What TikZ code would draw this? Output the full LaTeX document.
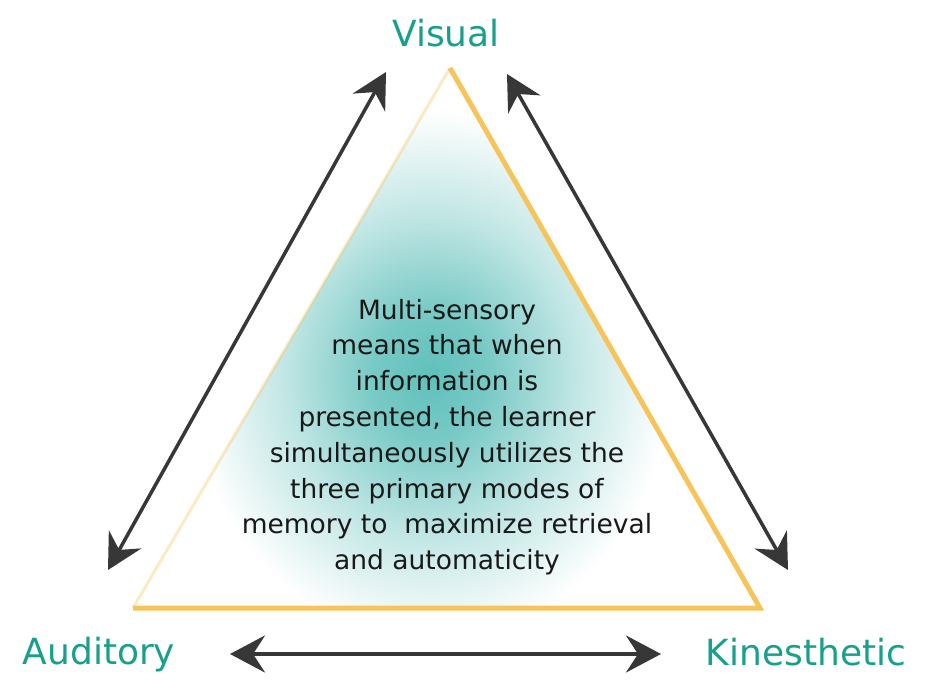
\documentclass[tikz,border=0pt]{standalone}
\usepackage{fontspec}
\setmainfont{DejaVu Sans}
\usetikzlibrary{arrows.meta}
\definecolor{tealtxt}{RGB}{24,160,140}
\definecolor{tri}{RGB}{246,196,90}
\definecolor{arr}{RGB}{55,55,55}
\definecolor{glow}{RGB}{96,192,187}
\pgfdeclareradialshading{glowsh}{\pgfpoint{0bp}{0bp}}{color(0bp)=(glow); color(6bp)=(glow!85!white); color(15bp)=(glow!40!white); color(25bp)=(white); color(50bp)=(white)}
\tikzset{
  link/.style={draw=arr, line width=3.5pt, {Stealth[length=35pt,width=37pt,inset=12pt]}-{Stealth[length=35pt,width=37pt,inset=12pt]}},
  mode/.style={text=tealtxt, font=\fontsize{36}{40}\selectfont, inner sep=0pt},
  body/.style={align=center, font=\fontsize{26.5}{35.8}\selectfont, text=black!90, inner sep=0pt}
}
\begin{document}
\begin{tikzpicture}[x=1pt,y=-1pt]
\useasboundingbox (0,0) rectangle (926,685);
\fill[white] (0,0) rectangle (926,685);
\coordinate (A) at (450,68);
\coordinate (B) at (133,608);
\coordinate (C) at (760,608);
\begin{scope}
  \clip (A) -- (B) -- (C) -- cycle;
  \shade[shading=glowsh] (430,375) ellipse (240 and 265);
\end{scope}
\draw[tri, line width=5pt, line join=miter] (A) -- (C) -- (B);
\draw[tri, line width=3pt, opacity=0.35] (B) -- (A);
\node[mode] (vis) at (446,33) {Visual};
\node[mode] (aud) at (99,655) {Auditory};
\node[mode] (kin) at (806,652) {Kinesthetic};
\coordinate (l1) at (386,72);
\coordinate (l2) at (108,570);
\coordinate (r1) at (507,74);
\coordinate (r2) at (788,570);
\coordinate (b1) at (230,654);
\coordinate (b2) at (661,654);
\draw[link] (l1) -- (l2);
\draw[link] (r1) -- (r2);
\draw[link] (b1) -- (b2);
\node[body] (txt) at (447,437) {Multi-sensory\\means that when\\information is\\presented, the learner\\simultaneously utilizes the\\three primary modes of\\memory to\ \ maximize retrieval\\and automaticity};
\end{tikzpicture}
\end{document}
